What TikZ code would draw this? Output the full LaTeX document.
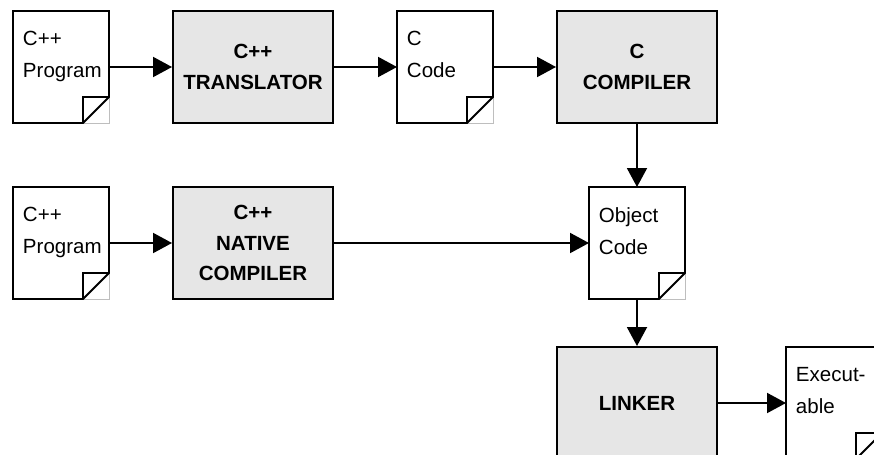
\documentclass[tikz,border=0pt]{standalone}
\usepackage{fontspec}
\setmainfont{Liberation Sans}
\usetikzlibrary{arrows.meta}
\usetikzlibrary{calc}
\definecolor{boxgr}{RGB}{230, 230, 230}
\definecolor{foldgr}{RGB}{190, 190, 190}

\begin{document}
\begin{tikzpicture}[
        line width=1.4pt,
        stage/.style={draw, fill=boxgr, minimum width=4cm, minimum height=2.8cm, align=center, font=\fontsize{14.6}{22}\selectfont\bfseries},
        doc/.style={minimum width=2.4cm, minimum height=2.8cm, inner sep=0pt, outer sep=0pt},
        doctext/.style={anchor=north west, inner sep=0pt, align=left, font=\fontsize{14.6}{22.7}\selectfont},
        flow/.style={-{Triangle[length=0.475cm, width=0.5cm]}}
    ]
        \useasboundingbox (0,0) rectangle (21.85,-11.375);
        \clip (0,0) rectangle (21.85,-11.375);

        \node[doc] (prog1) at (1.525,-1.675) {};
        \node[stage] (trans) at (6.325,-1.675) {C++\\TRANSLATOR};
        \node[doc] (ccode) at (11.125,-1.675) {};
        \node[stage] (ccomp) at (15.925,-1.675) {C\\COMPILER};
        \node[doc] (prog2) at (1.525,-6.075) {};
        \node[stage] (native) at (6.325,-6.075) {C++\\NATIVE\\COMPILER};
        \node[doc] (obj) at (15.925,-6.075) {};
        \node[stage] (linker) at (15.925,-10.075) {LINKER};
        \node[doc] (exe) at (20.85,-10.075) {};

        % pages with a folded corner
        \foreach \d in {prog1,ccode,prog2,obj,exe} {
            \draw[foldgr, line width=0.6pt] ($(\d.south east)+(0,0.65)$) -- (\d.south east) -- ($(\d.south east)+(-0.65,0)$);
            \draw (\d.north west) -- (\d.north east) -- ($(\d.south east)+(0,0.65)$) -- ($(\d.south east)+(-0.65,0)$) -- (\d.south west) -- cycle;
            \draw ($(\d.south east)+(-0.65,0)$) |- ($(\d.south east)+(0,0.65)$);
        }

        \node[doctext] (prog1txt) at ($(prog1.north west)+(0.225,-0.49)$) {C++\\Program};
        \node[doctext] (ccodetxt) at ($(ccode.north west)+(0.225,-0.49)$) {C\\Code};
        \node[doctext] (prog2txt) at ($(prog2.north west)+(0.225,-0.49)$) {C++\\Program};
        \node[doctext] (objtxt) at ($(obj.north west)+(0.225,-0.49)$) {Object\\Code};
        \node[doctext] (exetxt) at ($(exe.north west)+(0.225,-0.49)$) {Execut-\\able};

        \draw[flow] (prog1) -- (trans);
        \draw[flow] (trans) -- (ccode);
        \draw[flow] (ccode) -- (ccomp);
        \draw[flow] (ccomp) -- (obj);
        \draw[flow] (prog2) -- (native);
        \draw[flow] (native) -- (obj);
        \draw[flow] (obj) -- (linker);
        \draw[flow] (linker) -- (exe);
    \end{tikzpicture}
\end{document}
